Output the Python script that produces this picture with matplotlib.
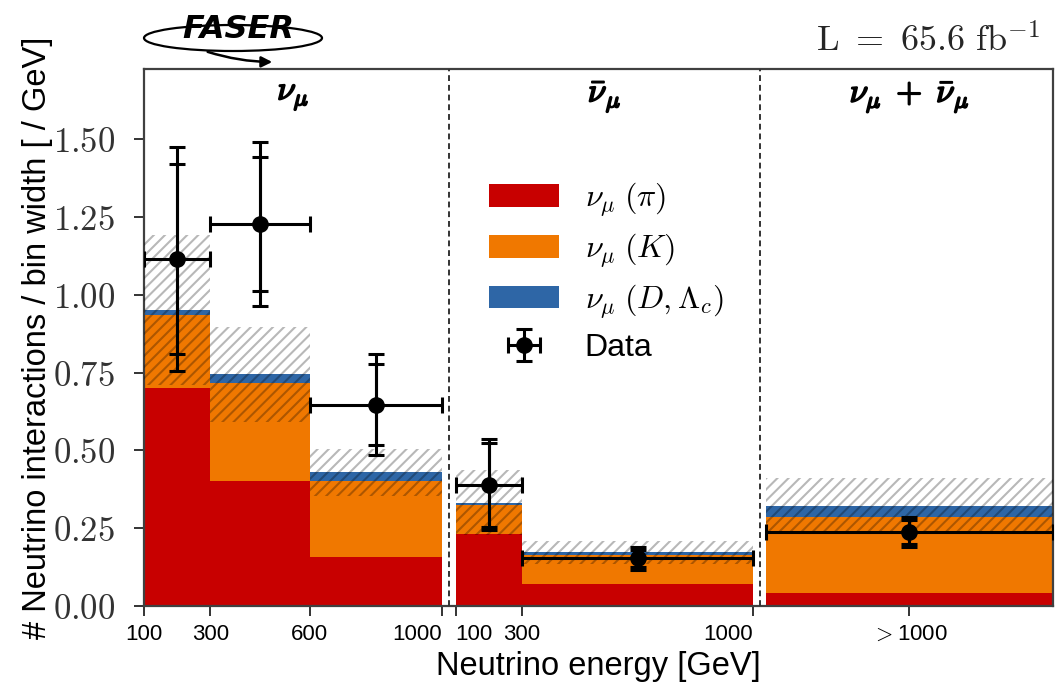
import matplotlib
matplotlib.use("Agg")
import matplotlib.pyplot as plt
import matplotlib.patheffects as pe
import numpy as np
from matplotlib.patches import Ellipse, FancyArrowPatch
from matplotlib.ticker import FuncFormatter

plt.rcParams['mathtext.fontset'] = 'cm'
plt.rcParams['font.family'] = ['Liberation Sans', 'DejaVu Sans']
plt.rcParams['hatch.linewidth'] = 1.5

# Energy bin edges [GeV] of each panel and the shift of each panel along the shared x axis
numu_edges = [100, 300, 600, 1000]
numubar_edges = [100, 300, 1000]
comb_edges = [1000, 1868]          # open-ended ">1000" bin, drawn with a fixed width
panel_offsets = [0, 941.6, 980]
comb_label = r'$>$1000'

# nu_mu panel
numu_pi = [0.700, 0.401, 0.158]
numu_K = [0.236, 0.316, 0.243]
numu_D = [0.016, 0.027, 0.028]
numu_unc = [0.241, 0.152, 0.075]
numu_data = [1.116, 1.228, 0.647]
numu_stat = [0.305, 0.215, 0.130]
numu_tot = [0.360, 0.263, 0.161]

# anti-nu_mu panel
numubar_pi = [0.230, 0.071]
numubar_K = [0.094, 0.093]
numubar_D = [0.008, 0.008]
numubar_unc = [0.104, 0.038]
numubar_data = [0.390, 0.153]
numubar_stat = [0.135, 0.027]
numubar_tot = [0.146, 0.036]

# combined high-energy panel
comb_pi = [0.041]
comb_K = [0.246]
comb_D = [0.034]
comb_unc = [0.091]
comb_data = [0.237]
comb_stat = [0.039]
comb_tot = [0.048]

panel_titles = [r'$\nu_\mu$', r'$\bar{\nu}_\mu$', r'$\nu_\mu\;+\;\bar{\nu}_\mu$']

c_pi = '#c80000'
c_K = '#f07800'
c_D = '#2e66a6'

W, H = 1055, 686
fig = plt.figure(figsize=(W / 100, H / 100), dpi=100)
ax = fig.add_axes([144.3 / W, 80 / H, (1053 - 144.3) / W, (606 - 69) / H])

panels = [
    (numu_edges, numu_pi, numu_K, numu_D, numu_unc, numu_data, numu_stat, numu_tot),
    (numubar_edges, numubar_pi, numubar_K, numubar_D, numubar_unc, numubar_data, numubar_stat, numubar_tot),
    (comb_edges, comb_pi, comb_K, comb_D, comb_unc, comb_data, comb_stat, comb_tot),
]

tick_pos, tick_lab, tick_ha = [], [], []
panel_ranges = []
for i, (edges, pi, K, D, unc, data, stat, tot) in enumerate(panels):
    e = np.array(edges, float) + panel_offsets[i]
    left, width = e[:-1], np.diff(e)
    pi, K, D = np.array(pi), np.array(K), np.array(D)
    total = pi + K + D
    unc = np.array(unc)
    ax.bar(left, pi, width=width, align='edge', color=c_pi, lw=0, zorder=2,
           label=r'$\nu_\mu\;(\pi)$' if i == 0 else None)
    ax.bar(left, K, width=width, bottom=pi, align='edge', color=c_K, lw=0, zorder=2,
           label=r'$\nu_\mu\;(K)$' if i == 0 else None)
    ax.bar(left, D, width=width, bottom=pi + K, align='edge', color=c_D, lw=0, zorder=2,
           label=r'$\nu_\mu\;(D, \Lambda_c)$' if i == 0 else None)
    ax.bar(left, 2 * unc, width=width, bottom=total - unc, align='edge', fill=False,
           hatch='///', edgecolor=(0, 0, 0, 0.28), lw=0, zorder=3)
    xc = left + width / 2
    ax.errorbar(xc, data, yerr=tot, fmt='none', ecolor='k', elinewidth=2.2,
                capsize=6, capthick=2.2, zorder=5)
    eb = ax.errorbar(xc, data, yerr=stat, xerr=width / 2, fmt='o', color='k', ms=11,
                     elinewidth=2.2, capsize=6, capthick=2.2, zorder=6)
    if i == 0:
        data_handle = eb
    if i < 2:
        tick_pos += list(e)
        tick_lab += [str(v) for v in edges]
        ha = ['center'] * len(edges)
        if i == 1:
            ha[0] = 'left'
        ha[-1] = 'right'
        tick_ha += ha
    else:
        tick_pos.append(xc[0])
        tick_lab.append(comb_label)
        tick_ha.append('center')
    panel_ranges.append((e[0], e[-1]))

# dashed separators between panels
for (a0, a1), (b0, b1) in zip(panel_ranges[:-1], panel_ranges[1:]):
    ax.axvline((a1 + b0) / 2, ls='--', dashes=(3, 2), color='0.2', lw=1.4, zorder=4)

bold = [pe.withStroke(linewidth=1.3, foreground='k')]
for (a0, a1), title in zip(panel_ranges, panel_titles):
    ax.text((a0 + a1) / 2, 0.948, title, transform=ax.get_xaxis_transform(),
            ha='center', va='center', fontsize=24, path_effects=bold)

ax.set_xlim(panel_ranges[0][0], panel_ranges[-1][1])
ax.set_ylim(0, 1.725)
ax.set_xticks(tick_pos)
ax.set_xticklabels(tick_lab, fontsize=16)
for lab, ha in zip(ax.get_xticklabels(), tick_ha):
    lab.set_horizontalalignment(ha)
ax.set_yticks(np.arange(0, 1.51, 0.25))
ax.yaxis.set_major_formatter(FuncFormatter(lambda v, p: f'${v:.2f}$'))
ax.tick_params(axis='y', labelsize=25, length=7, width=1.4, color='0.2', pad=14,
               labelcolor='0.2')
ax.tick_params(axis='x', length=7, width=1.4, color='0.2', pad=6)
for s in ax.spines.values():
    s.set_linewidth(1.6)
    s.set_color('0.25')

ax.set_xlabel('Neutrino energy [GeV]', fontsize=23.5, labelpad=4)
ax.set_ylabel('# Neutrino interactions / bin width [ / GeV]', fontsize=23.5, labelpad=0)

handles, labels = ax.get_legend_handles_labels()
handles.append(data_handle)
labels.append('Data')
ax.legend(handles, labels, loc='upper left', bbox_to_anchor=(460 / W, (686 - 152) / H),
          bbox_transform=fig.transFigure, frameon=False, fontsize=23,
          handlelength=2.2, handleheight=0.7, handletextpad=0.8, labelspacing=0.38)

fig.text(1040 / W, (686 - 42) / H, r'$\mathrm{L}\ =\ 65.6\ \mathrm{fb}^{-1}$',
         ha='right', va='center', fontsize=26, color='0.15')

# FASER logo
fig.text(238 / W, (686 - 30) / H, 'FASER', fontsize=23, fontweight='bold', style='italic',
         family='DejaVu Sans', ha='center', va='center')
fig.patches.append(Ellipse((233 / W, (686 - 38) / H), 178 / W, 26 / H, fill=False,
                           lw=1.6, color='k', transform=fig.transFigure))
fig.patches.append(FancyArrowPatch((205 / W, (686 - 51) / H), (275 / W, (686 - 62) / H),
                                   arrowstyle='-|>', mutation_scale=16, lw=1.8, color='k',
                                   transform=fig.transFigure,
                                   connectionstyle='arc3,rad=0.08'))

fig.savefig('out.png', dpi=100)
